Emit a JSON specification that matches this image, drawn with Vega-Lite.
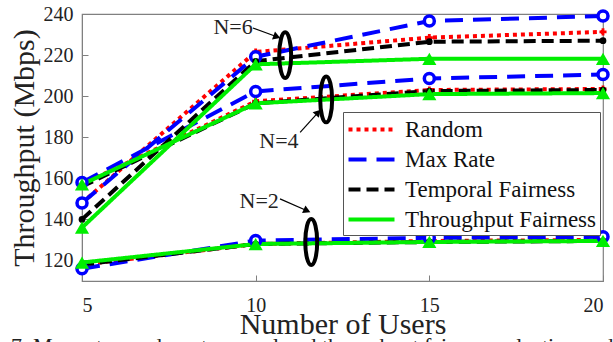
{
  "$schema": "https://vega.github.io/schema/vega-lite/v6.json",
  "width": 521,
  "height": 267,
  "autosize": "none",
  "padding": {"left": 82, "top": 14, "right": 10, "bottom": 61},
  "background": "white",
  "config": {
    "font": "Liberation Serif",
    "view": {"stroke": "#808080", "strokeWidth": 1.2},
    "axis": {
      "grid": false,
      "domainColor": "#808080",
      "tickColor": "#808080",
      "tickSize": -6,
      "labelFont": "Liberation Serif",
      "labelFontSize": 20,
      "labelColor": "#222222",
      "titleFont": "Liberation Serif",
      "titleFontSize": 30,
      "titleFontWeight": "normal",
      "titleColor": "#222222"
    },
    "legend": {
      "labelFont": "Liberation Serif",
      "labelFontSize": 23,
      "labelColor": "#111111",
      "labelLimit": 400
    }
  },
  "title": {
    "text": "7. Max rate, random, temporal and throughput fairness selection and",
    "orient": "bottom",
    "anchor": "start",
    "font": "Liberation Serif",
    "fontSize": 22,
    "fontWeight": "normal",
    "color": "#222222",
    "offset": -3,
    "dx": 2
  },
  "datasets": {
    "series": [
      {"N": "N=6", "scheme": "Random", "users": 5, "tput": 148},
      {"N": "N=6", "scheme": "Random", "users": 10, "tput": 221.5},
      {"N": "N=6", "scheme": "Random", "users": 15, "tput": 228.5},
      {"N": "N=6", "scheme": "Random", "users": 20, "tput": 231.3},
      {"N": "N=4", "scheme": "Random", "users": 5, "tput": 157},
      {"N": "N=4", "scheme": "Random", "users": 10, "tput": 197.5},
      {"N": "N=4", "scheme": "Random", "users": 15, "tput": 203},
      {"N": "N=4", "scheme": "Random", "users": 20, "tput": 203.5},
      {"N": "N=2", "scheme": "Random", "users": 5, "tput": 118},
      {"N": "N=2", "scheme": "Random", "users": 10, "tput": 128},
      {"N": "N=2", "scheme": "Random", "users": 15, "tput": 129.5},
      {"N": "N=2", "scheme": "Random", "users": 20, "tput": 130},
      {"N": "N=6", "scheme": "Max Rate", "users": 5, "tput": 148},
      {"N": "N=6", "scheme": "Max Rate", "users": 10, "tput": 219.2},
      {"N": "N=6", "scheme": "Max Rate", "users": 15, "tput": 236.6},
      {"N": "N=6", "scheme": "Max Rate", "users": 20, "tput": 239},
      {"N": "N=4", "scheme": "Max Rate", "users": 5, "tput": 158},
      {"N": "N=4", "scheme": "Max Rate", "users": 10, "tput": 202.3},
      {"N": "N=4", "scheme": "Max Rate", "users": 15, "tput": 208.6},
      {"N": "N=4", "scheme": "Max Rate", "users": 20, "tput": 210.5},
      {"N": "N=2", "scheme": "Max Rate", "users": 5, "tput": 116},
      {"N": "N=2", "scheme": "Max Rate", "users": 10, "tput": 129.7},
      {"N": "N=2", "scheme": "Max Rate", "users": 15, "tput": 131},
      {"N": "N=2", "scheme": "Max Rate", "users": 20, "tput": 131.5},
      {"N": "N=6", "scheme": "Temporal Fairness", "users": 5, "tput": 140},
      {"N": "N=6", "scheme": "Temporal Fairness", "users": 10, "tput": 217},
      {"N": "N=6", "scheme": "Temporal Fairness", "users": 15, "tput": 226.5},
      {"N": "N=6", "scheme": "Temporal Fairness", "users": 20, "tput": 227},
      {"N": "N=4", "scheme": "Temporal Fairness", "users": 5, "tput": 156},
      {"N": "N=4", "scheme": "Temporal Fairness", "users": 10, "tput": 196.5},
      {"N": "N=4", "scheme": "Temporal Fairness", "users": 15, "tput": 202.5},
      {"N": "N=4", "scheme": "Temporal Fairness", "users": 20, "tput": 203},
      {"N": "N=2", "scheme": "Temporal Fairness", "users": 5, "tput": 118},
      {"N": "N=2", "scheme": "Temporal Fairness", "users": 10, "tput": 128},
      {"N": "N=2", "scheme": "Temporal Fairness", "users": 15, "tput": 129},
      {"N": "N=2", "scheme": "Temporal Fairness", "users": 20, "tput": 129.5},
      {"N": "N=6", "scheme": "Throughput Fairness", "users": 5, "tput": 136},
      {"N": "N=6", "scheme": "Throughput Fairness", "users": 10, "tput": 215.5},
      {"N": "N=6", "scheme": "Throughput Fairness", "users": 15, "tput": 218.2},
      {"N": "N=6", "scheme": "Throughput Fairness", "users": 20, "tput": 218.2},
      {"N": "N=4", "scheme": "Throughput Fairness", "users": 5, "tput": 157},
      {"N": "N=4", "scheme": "Throughput Fairness", "users": 10, "tput": 196.5},
      {"N": "N=4", "scheme": "Throughput Fairness", "users": 15, "tput": 201},
      {"N": "N=4", "scheme": "Throughput Fairness", "users": 20, "tput": 201.5},
      {"N": "N=2", "scheme": "Throughput Fairness", "users": 5, "tput": 119},
      {"N": "N=2", "scheme": "Throughput Fairness", "users": 10, "tput": 128},
      {"N": "N=2", "scheme": "Throughput Fairness", "users": 15, "tput": 129},
      {"N": "N=2", "scheme": "Throughput Fairness", "users": 20, "tput": 129.5}
    ],
    "labels": [
      {"label": "N=6", "users": 9.35, "tput": 233.5},
      {"label": "N=4", "users": 10.67, "tput": 178},
      {"label": "N=2", "users": 10.1, "tput": 149}
    ],
    "arrows": [
      {"label": "N=6", "users": 9.92, "tput": 233.2, "users2": 10.61, "tput2": 228.9},
      {"label": "N=4", "users": 11.28, "tput": 182.4, "users2": 11.8, "tput2": 192.1},
      {"label": "N=2", "users": 10.7, "tput": 150, "users2": 11.48, "tput2": 144.2}
    ],
    "ellipses": [
      {"label": "N=6", "users": 10.85, "tput": 220},
      {"label": "N=4", "users": 12.03, "tput": 198.4},
      {"label": "N=2", "users": 11.6, "tput": 129}
    ]
  },
  "encoding": {
    "x": {
      "field": "users",
      "type": "quantitative",
      "scale": {"domain": [5, 20], "nice": false, "zero": false},
      "axis": {"values": [5, 10, 15, 20], "format": "d", "labelPadding": 20, "titlePadding": -6, "title": "Number of Users"}
    },
    "y": {
      "field": "tput",
      "type": "quantitative",
      "scale": {"domain": [110, 240], "nice": false, "zero": false},
      "axis": {"values": [120, 140, 160, 180, 200, 220, 240], "labelPadding": 15, "titlePadding": 4, "title": "Throughput (Mbps)"}
    }
  },
  "layer": [
    {
      "data": {"name": "series"},
      "mark": {"type": "line", "strokeWidth": 4, "clip": true},
      "encoding": {
        "detail": {"field": "N"},
        "color": {
          "field": "scheme",
          "type": "nominal",
          "scale": {
            "domain": ["Random", "Max Rate", "Temporal Fairness", "Throughput Fairness"],
            "range": ["#ff0000", "#0000ff", "#000000", "#00ee00"]
          },
          "legend": {
            "title": null,
            "orient": "none",
            "legendX": 261,
            "legendY": 98,
            "fillColor": "white",
            "strokeColor": "#555555",
            "padding": 3,
            "symbolType": "M-1.84,0L1.84,0",
            "symbolSize": 625,
            "symbolStrokeWidth": 4,
            "symbolOffset": 11,
            "rowPadding": 3,
            "labelOffset": 19,
            "labelFont": "Liberation Serif",
            "labelFontSize": 23,
            "labelLimit": 400
          }
        },
        "strokeDash": {
          "field": "scheme",
          "type": "nominal",
          "scale": {
            "domain": ["Random", "Max Rate", "Temporal Fairness", "Throughput Fairness"],
            "range": [[4, 4], [18, 10], [12, 6], [1, 0]]
          },
          "legend": {
            "title": null,
            "orient": "none",
            "legendX": 261,
            "legendY": 98,
            "fillColor": "white",
            "strokeColor": "#555555",
            "padding": 3,
            "symbolType": "M-1.84,0L1.84,0",
            "symbolSize": 625,
            "symbolStrokeWidth": 4,
            "symbolOffset": 11,
            "rowPadding": 3,
            "labelOffset": 19,
            "labelFont": "Liberation Serif",
            "labelFontSize": 23,
            "labelLimit": 400
          }
        }
      }
    },
    {
      "data": {"name": "series"},
      "transform": [{"filter": "datum.scheme === 'Random'"}],
      "mark": {"type": "point", "shape": "cross", "filled": true, "color": "#ff0000", "size": 50, "opacity": 1}
    },
    {
      "data": {"name": "series"},
      "transform": [{"filter": "datum.scheme === 'Max Rate'"}],
      "mark": {"type": "point", "shape": "circle", "filled": false, "fill": "white", "fillOpacity": 1, "stroke": "#0000ff", "strokeWidth": 3.5, "size": 100, "opacity": 1}
    },
    {
      "data": {"name": "series"},
      "transform": [{"filter": "datum.scheme === 'Temporal Fairness'"}],
      "mark": {"type": "point", "shape": "circle", "filled": true, "color": "#000000", "size": 45, "opacity": 1}
    },
    {
      "data": {"name": "series"},
      "transform": [{"filter": "datum.scheme === 'Throughput Fairness'"}],
      "mark": {"type": "point", "shape": "triangle-up", "filled": true, "color": "#00ee00", "size": 200, "opacity": 1}
    },
    {
      "data": {"name": "ellipses"},
      "mark": {"type": "point", "shape": "M0,-1 A0.26,1 0 1,1 0,1 A0.26,1 0 1,1 0,-1 Z", "filled": false, "stroke": "#000000", "strokeWidth": 4, "size": 2100, "opacity": 1}
    },
    {
      "data": {"name": "arrows"},
      "mark": {"type": "rule", "stroke": "#000000", "strokeWidth": 1.2},
      "encoding": {
        "x2": {"field": "users2"},
        "y2": {"field": "tput2"}
      }
    },
    {
      "data": {"name": "arrows"},
      "transform": [{"filter": "datum.label === 'N=6'"}],
      "mark": {"type": "point", "shape": "triangle-right", "filled": true, "color": "#000000", "size": 70, "angle": 21, "opacity": 1},
      "encoding": {"x": {"field": "users2", "type": "quantitative"}, "y": {"field": "tput2", "type": "quantitative"}}
    },
    {
      "data": {"name": "arrows"},
      "transform": [{"filter": "datum.label === 'N=4'"}],
      "mark": {"type": "point", "shape": "triangle-right", "filled": true, "color": "#000000", "size": 70, "angle": 312, "opacity": 1},
      "encoding": {"x": {"field": "users2", "type": "quantitative"}, "y": {"field": "tput2", "type": "quantitative"}}
    },
    {
      "data": {"name": "arrows"},
      "transform": [{"filter": "datum.label === 'N=2'"}],
      "mark": {"type": "point", "shape": "triangle-right", "filled": true, "color": "#000000", "size": 70, "angle": 24, "opacity": 1},
      "encoding": {"x": {"field": "users2", "type": "quantitative"}, "y": {"field": "tput2", "type": "quantitative"}}
    },
    {
      "data": {"name": "labels"},
      "mark": {"type": "text", "font": "Liberation Serif", "fontSize": 22, "color": "#222222", "align": "center", "baseline": "middle"},
      "encoding": {"text": {"field": "label"}}
    }
  ]
}
